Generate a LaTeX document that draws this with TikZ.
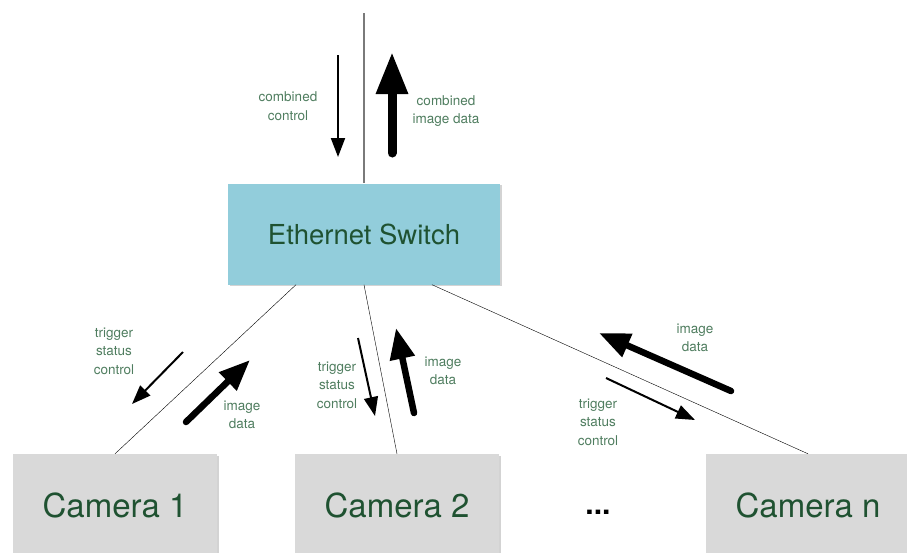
\documentclass[tikz,border=0pt]{standalone}
\usepackage{fontspec}
\setmainfont{TeX Gyre Heros}
\usetikzlibrary{arrows.meta,shadows}
\definecolor{switchblue}{HTML}{92CDDB}
\definecolor{camgray}{HTML}{D9D9D9}
\definecolor{darkgreen}{HTML}{1F5231}
\definecolor{labelgreen}{HTML}{4F7D5F}
\definecolor{linegray}{HTML}{7A7A7A}

\begin{document}
\begin{tikzpicture}[x=1pt, y=-1pt,
 switchnode/.style={rectangle, fill=switchblue, minimum width=272pt, minimum height=101pt, text=darkgreen, font=\fontsize{27.5}{30}\selectfont, drop shadow={shadow xshift=1.5pt, shadow yshift=-1.5pt, opacity=0.35}},
 cameranode/.style={rectangle, fill=camgray, minimum width=204pt, minimum height=102pt, text=darkgreen, font=\fontsize{33}{36}\selectfont, drop shadow={shadow xshift=1.5pt, shadow yshift=-1.5pt, opacity=0.35}},
 flowlabel/.style={align=center, text=labelgreen, font=\fontsize{13.5}{18.5}\selectfont},
 thinarrow/.style={line width=2pt, -{Triangle[length=19pt, width=14pt]}},
 thickarrow/.style={line width=6.5pt, line cap=round, -{Triangle[length=31pt, width=24pt]}},
 bigarrow/.style={line width=9pt, line cap=round, -{Triangle[length=42pt, width=30pt]}}, ]

                \useasboundingbox (0,0) rectangle (907,552);

                \node[switchnode] (switch) at (364,234) {Ethernet Switch};
                \node[cameranode] (cam1) at (115,505) {Camera 1};
                \node[cameranode] (cam2) at (397,505) {Camera 2};
                \node[cameranode] (camn) at (808,505) {Camera n};
                \node[font=\fontsize{30}{32}\selectfont\bfseries] (dots) at (598,512) {...};
                \coordinate (uplink) at (364,13);

                \draw[linegray, line width=1.3pt] (uplink) -- (switch.north);
                \path [-,black,thin]([xshift=-68pt]switch.south) edge (cam1.north)
                                    (switch.south) edge (cam2.north)
                                    ([xshift=68pt]switch.south) edge (camn.north);

                % uplink
                \draw[thinarrow] (338,55) -- (338,157);
                \draw[bigarrow] (392,153) -- (392,52);
                \node[flowlabel] (ctrlup) at (288,106) {combined\\control};
                \node[flowlabel] (dataup) at (446,111) {combined\\image data};

                % camera 1
                \draw[thinarrow] (183,352) -- (132,404);
                \draw[thickarrow] (186,422) -- (250,360);
                \node[flowlabel] (ctrl1) at (114,351) {trigger\\status\\control};
                \node[flowlabel] (data1) at (242,415) {image\\data};

                % camera 2
                \draw[thinarrow] (358,338) -- (375,416);
                \draw[thickarrow] (414,413) -- (396,328);
                \node[flowlabel] (ctrl2) at (337,385) {trigger\\status\\control};
                \node[flowlabel] (data2) at (443,371) {image\\data};

                % camera n
                \draw[thickarrow] (731,391) -- (599,333);
                \draw[thinarrow] (606,378) -- (695,420);
                \node[flowlabel] (datan) at (695,338) {image\\data};
                \node[flowlabel] (ctrln) at (598,422) {trigger\\status\\control};
\end{tikzpicture}
\end{document}
